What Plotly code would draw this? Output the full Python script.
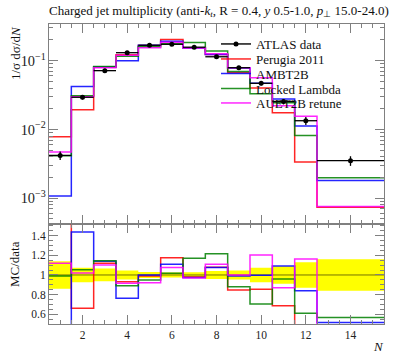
import plotly.graph_objects as go

# ---- data ----
bin_edges = [0.5, 1.5, 2.5, 3.5, 4.5, 5.5, 6.5, 7.5, 8.5, 9.5, 10.5, 11.5, 12.5, 15.5]
n_centers = [1, 2, 3, 4, 5, 6, 7, 8, 9, 10, 11, 12, 14]
atlas_data = [0.0042, 0.0294, 0.0716, 0.1306, 0.1675, 0.173, 0.157, 0.114, 0.079,
              0.0469, 0.0254, 0.0134, 0.00352]
atlas_relerr = [0.14, 0.075, 0.065, 0.045, 0.03, 0.025, 0.028, 0.04, 0.045,
                0.075, 0.09, 0.13, 0.16]
perugia2011 = [0.00785, 0.0194, 0.0802, 0.1215, 0.1658, 0.2036, 0.1539, 0.1231,
               0.0669, 0.0401, 0.01745, 0.00337, 0.00074]
ambt2b = [0.00108, 0.0423, 0.0816, 0.0995, 0.1675, 0.1919, 0.1531, 0.1226,
          0.0782, 0.0468, 0.0277, 0.01126, 0.00181]
locked_lambda = [0.00416, 0.0310, 0.0820, 0.1162, 0.1591, 0.1759, 0.1837, 0.1387,
                 0.0696, 0.0330, 0.02436, 0.00816, 0.00199]
auet2b_retune = [0.0047, 0.0300, 0.0788, 0.1195, 0.1541, 0.1860, 0.1523, 0.1264,
                 0.0790, 0.0565, 0.0221, 0.01558, 0.00076]

series = [
    ("Perugia 2011", perugia2011, "#ff0000"),
    ("AMBT2B", ambt2b, "#0000ff"),
    ("Locked Lambda", locked_lambda, "#008000"),
    ("AUET2B retune", auet2b_retune, "#ff00ff"),
]

FONT = "Liberation Serif"
AX = "#808080"


def step(vals):
    return list(vals) + [vals[-1]]


fig = go.Figure()

# ratio band (data uncertainty)
lo = [1 - e for e in atlas_relerr]
hi = [1 + e for e in atlas_relerr]
fig.add_trace(go.Scatter(x=bin_edges, y=step(lo), mode="lines", line=dict(width=0, shape="hv"),
                         xaxis="x2", yaxis="y2", showlegend=False, hoverinfo="skip"))
fig.add_trace(go.Scatter(x=bin_edges, y=step(hi), mode="lines", line=dict(width=0, shape="hv"),
                         fill="tonexty", fillcolor="#ffff00",
                         xaxis="x2", yaxis="y2", showlegend=False, hoverinfo="skip"))
fig.add_trace(go.Scatter(x=bin_edges, y=step([1.0] * len(atlas_data)), mode="lines",
                         line=dict(color="rgba(0,0,0,0.55)", width=1, shape="hv"),
                         xaxis="x2", yaxis="y2", showlegend=False))

# MC lines
legend_names = ["legend2", "legend3", "legend4", "legend5"]
for (name, vals, col), lg in zip(series, legend_names):
    fig.add_trace(go.Scatter(x=bin_edges, y=step(vals), mode="lines", name=name,
                             line=dict(color=col, width=1.5, shape="hv"),
                             opacity=0.85, legend=lg))
    ratio = [v / d for v, d in zip(vals, atlas_data)]
    fig.add_trace(go.Scatter(x=bin_edges, y=step(ratio), mode="lines",
                             line=dict(color=col, width=1.5, shape="hv"), opacity=0.85,
                             xaxis="x2", yaxis="y2", showlegend=False))

# data points
half_w = [(bin_edges[i + 1] - bin_edges[i]) / 2 for i in range(len(n_centers))]
fig.add_trace(go.Scatter(x=n_centers, y=atlas_data, mode="markers",
                         marker=dict(color="black", size=5),
                         error_x=dict(type="data", array=half_w, width=0, thickness=1.3, color="black"),
                         error_y=dict(type="data", array=[d * e for d, e in zip(atlas_data, atlas_relerr)],
                                      width=0, thickness=1.3, color="black"),
                         showlegend=False))
fig.add_trace(go.Scatter(x=[None], y=[None], mode="lines+markers", name="ATLAS data",
                         line=dict(color="black", width=1.4), marker=dict(color="black", size=5),
                         legend="legend"))

tickfont = dict(family=FONT, size=11.5, color="#222")
common_x = dict(range=[0.5, 15.5], ticks="inside", ticklen=9, tickcolor=AX, dtick=2, tick0=0,
                minor=dict(ticks="inside", ticklen=4, dtick=0.5, tickcolor=AX),
                mirror="allticks", showline=True, linecolor=AX, linewidth=1,
                showgrid=False, zeroline=False, tickfont=tickfont)

legend_y = [44, 59, 73.5, 88.5, 103]
H, W = 358, 397
top, bottom = 24, 34
plot_h = H - top - bottom
plot_w = W - 49 - 13

legends = {}
for i, yy in enumerate(legend_y):
    key = "legend" if i == 0 else f"legend{i + 1}"
    legends[key] = dict(x=(216 - 49) / plot_w, xanchor="left",
                        y=1 - (yy - top) / plot_h, yanchor="middle",
                        bgcolor="rgba(0,0,0,0)", borderwidth=0,
                        font=dict(family=FONT, size=13, color="#111"),
                        itemwidth=30)

fig.update_layout(
    width=W, height=H,
    margin=dict(l=49, r=13, t=top, b=bottom),
    paper_bgcolor="white", plot_bgcolor="white",
    font=dict(family=FONT, size=11, color="#222"),
    title=dict(text="Charged jet multiplicity (anti-<i>k</i><sub><i>t</i></sub>, R = 0.4, <i>y</i> 0.5-1.0, <i>p</i><sub>⊥</sub> 15.0-24.0)",
               x=49 / W, xanchor="left", y=1 - 10 / H, yanchor="middle",
               font=dict(family=FONT, size=13, color="#111")),
    xaxis=dict(common_x, anchor="y", showticklabels=False, matches="x2"),
    xaxis2=dict(common_x, anchor="y2", showticklabels=True),
    yaxis=dict(type="log", domain=[1 / 3, 1], range=[-3.374, -0.467], dtick=1,
               exponentformat="power", ticks="inside", ticklen=9, tickcolor=AX,
               minor=dict(ticks="inside", ticklen=4, dtick="D1", tickcolor=AX),
               mirror="allticks", showline=True, linecolor=AX, linewidth=1,
               showgrid=False, zeroline=False, tickfont=tickfont),
    yaxis2=dict(domain=[0, 1 / 3], range=[0.5, 1.52], dtick=0.2, tick0=0,
                ticks="inside", ticklen=9, tickcolor=AX,
                minor=dict(ticks="inside", ticklen=4, dtick=0.05, tickcolor=AX),
                mirror="allticks", showline=True, linecolor=AX, linewidth=1,
                showgrid=False, zeroline=False, tickfont=tickfont),
    annotations=[
        dict(text="1/σ dσ/d<i>N</i>", xref="paper", yref="paper", x=(15 - 49) / plot_w, y=1.0,
             xanchor="center", yanchor="top", textangle=-90, showarrow=False,
             font=dict(family=FONT, size=13, color="#111")),
        dict(text="MC/data", xref="paper", yref="paper", x=(14 - 49) / plot_w,
             y=1 - (264 - top) / plot_h,
             xanchor="center", yanchor="middle", textangle=-90, showarrow=False,
             font=dict(family=FONT, size=13, color="#111")),
        dict(text="<i>N</i>", xref="paper", yref="paper", x=(378 - 49) / plot_w,
             y=-(346 - 324) / plot_h,
             xanchor="center", yanchor="middle", showarrow=False,
             font=dict(family=FONT, size=13, color="#111")),
    ],
    **legends,
)

fig.write_html("out.html", config={"displayModeBar": False},
               post_script="document.body.style.margin='0';")
